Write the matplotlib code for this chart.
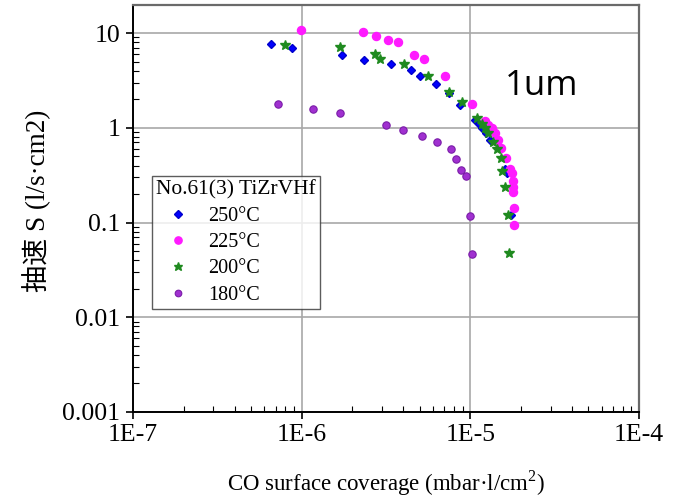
import matplotlib.pyplot as plt
from matplotlib.ticker import FixedLocator, LogLocator, NullFormatter
import numpy as np

plt.rcParams['font.family'] = ['Liberation Serif', 'Noto Sans CJK SC']
plt.rcParams['mathtext.fontset'] = 'custom'
plt.rcParams['mathtext.rm'] = 'Liberation Serif'

# 250°C
x250 = [6.55e-7, 8.76e-7, 1.73e-6, 2.35e-6, 3.38e-6, 4.45e-6, 5.0e-6, 6.25e-6,
        7.46e-6, 8.67e-6, 1.06e-5, 1.12e-5, 1.17e-5, 1.24e-5, 1.31e-5,
        1.60e-5, 1.65e-5, 1.74e-5]
y250 = [7.6, 7.0, 5.86, 5.22, 4.68, 4.07, 3.49, 2.92,
        2.34, 1.74, 1.21, 1.10, 0.99, 0.88, 0.74,
        0.367, 0.333, 0.12]

# 225°C
x225 = [9.87e-7, 2.30e-6, 2.75e-6, 3.24e-6, 3.74e-6, 4.65e-6, 5.28e-6, 7.10e-6,
        1.03e-5, 1.22e-5, 1.28e-5, 1.34e-5, 1.40e-5, 1.46e-5, 1.53e-5,
        1.63e-5, 1.72e-5, 1.76e-5, 1.78e-5, 1.78e-5, 1.79e-5, 1.81e-5, 1.81e-5]
y225 = [10.9, 10.25, 9.37, 8.44, 7.98, 5.86, 5.27, 3.52,
        1.77, 1.18, 1.07, 0.99, 0.874, 0.743, 0.607,
        0.483, 0.367, 0.330, 0.274, 0.239, 0.211, 0.143, 0.094]

# 200°C
x200 = [7.96e-7, 1.69e-6, 2.73e-6, 2.91e-6, 4.02e-6, 5.62e-6, 7.46e-6, 8.91e-6,
        1.09e-5, 1.17e-5, 1.22e-5, 1.27e-5, 1.37e-5, 1.43e-5, 1.51e-5,
        1.55e-5, 1.60e-5, 1.68e-5, 1.70e-5]
y200 = [7.42, 7.17, 5.96, 5.27, 4.71, 3.54, 2.37, 1.86,
        1.28, 1.11, 0.99, 0.88, 0.713, 0.593, 0.483,
        0.35, 0.239, 0.12, 0.048]

# 180°C
x180 = [7.21e-7, 1.16e-6, 1.68e-6, 3.16e-6, 4.0e-6, 5.14e-6, 6.31e-6, 7.64e-6,
        8.18e-6, 8.79e-6, 9.42e-6, 9.97e-6, 1.03e-5]
y180 = [1.77, 1.59, 1.42, 1.07, 0.94, 0.824, 0.708, 0.593,
        0.471, 0.358, 0.31, 0.118, 0.047]

xticks = [1e-7, 1e-6, 1e-5, 1e-4]
xtick_labels = ['1E-7', '1E-6', '1E-5', '1E-4']
yticks = [0.001, 0.01, 0.1, 1, 10]
ytick_labels = ['0.001', '0.01', '0.1', '1', '10']

fig = plt.figure(figsize=(6.81, 4.98), dpi=100)
ax = fig.add_axes([0.1953, 0.1727, 0.743, 0.8173])

ax.set_xscale('log')
ax.set_yscale('log')
ax.set_xlim(1e-7, 1e-4)
ax.set_ylim(1e-3, 19.8)

ax.grid(True, which='major', color='#a8a8a8', linewidth=1.2)
ax.set_axisbelow(True)

ax.plot(x250, y250, 'D', color='#0000ff', ms=4.3, mec='#0000cc', label='250°C', zorder=3)
ax.plot(x225, y225, 'o', color='#ff1aff', ms=5.8, mec='#ff1aff', label='225°C', zorder=3)
ax.plot(x200, y200, '*', color='#1f8a1f', ms=7, mec='#1f8a1f', label='200°C', zorder=4)
ax.plot(x180, y180, 'o', color='#a030d0', ms=5.3, mec='#7a1ca8', mew=0.8, label='180°C', zorder=3)

ax.xaxis.set_major_locator(FixedLocator(xticks))
ax.set_xticklabels(xtick_labels)
ax.yaxis.set_major_locator(FixedLocator(yticks))
ax.set_yticklabels(ytick_labels)
ax.xaxis.set_minor_locator(LogLocator(base=10, subs=np.arange(2, 10)))
ax.yaxis.set_minor_locator(LogLocator(base=10, subs=np.arange(2, 10)))
ax.xaxis.set_minor_formatter(NullFormatter())
ax.yaxis.set_minor_formatter(NullFormatter())

ax.tick_params(which='major', direction='out', length=5, width=1.2, labelsize=18.5)
ax.tick_params(axis='x', which='major', pad=4)
ax.tick_params(axis='y', which='major', pad=4)
ax.tick_params(which='minor', direction='in', length=4, width=0.8)
ax.tick_params(top=False, right=False)

for side in ['left', 'bottom']:
    ax.spines[side].set_color('black')
    ax.spines[side].set_linewidth(1.4)
for side in ['top', 'right']:
    ax.spines[side].set_color('#6a6a6a')
    ax.spines[side].set_linewidth(1.6)

ax.set_xlabel('CO surface coverage (mbar·l/cm$^2$)', fontsize=16.5, labelpad=16)
ax.set_ylabel('抽速 S (l/s·cm2)', fontsize=19.5)
ax.yaxis.set_label_coords(-0.162, 0.518)

fig.text(505 / 681, 1 - 95 / 498, '1um', fontsize=25, family='Open Sans',
         va='baseline', ha='left')

leg = ax.legend(title='No.61(3) TiZrVHf', loc='upper left',
                bbox_to_anchor=(0.0375, 0.58), borderaxespad=0,
                fontsize=14.5, title_fontsize=15.5, alignment='left',
                frameon=True, fancybox=False, edgecolor='#333333',
                handletextpad=0.4, borderpad=0.2, labelspacing=0.36,
                handlelength=2.2, markerscale=0.9)
leg.get_frame().set_linewidth(1.0)

fig.savefig('out.png', dpi=100)
